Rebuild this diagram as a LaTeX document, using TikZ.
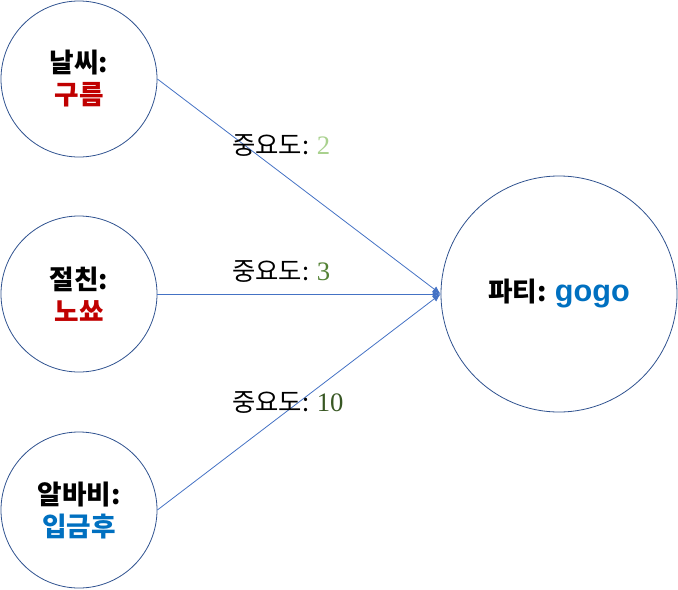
\documentclass[tikz,border=0pt]{standalone}
\usepackage{fontspec}
\setmainfont{Liberation Serif}
\newfontfamily\kr{Noto Sans CJK KR}
\newfontfamily\gogofont{Liberation Sans}
\usetikzlibrary{arrows.meta}
\definecolor{edgeblue}{HTML}{4472C4}
\definecolor{ringblue}{HTML}{2F528F}
\definecolor{kred}{HTML}{C00000}
\definecolor{kblue}{HTML}{0070C0}
\definecolor{gA}{HTML}{A9D18E}
\definecolor{gB}{HTML}{548235}
\definecolor{gC}{HTML}{385723}
\begin{document}
\begin{tikzpicture}[x=0.75pt,y=-0.75pt,
  ring/.style={circle, draw=ringblue, line width=0.6pt, inner sep=0pt, align=center,
    font=\kr\bfseries\fontsize{20}{24}\selectfont},
  smallring/.style={ring, minimum size=117pt},
  bigring/.style={ring, minimum size=177pt},
  edge/.style={draw=edgeblue, line width=0.6pt, -{Latex[length=6pt,width=5pt]}},
  weight/.style={anchor=west, inner sep=0pt, font=\kr\fontsize{19}{20}\selectfont}]
\useasboundingbox (0,0) rectangle (678,589);
\node[smallring] (w) at (79,79) {날씨:\\\textcolor{kred}{구름}};
\node[smallring] (f) at (79,294) {절친:\\\textcolor{kred}{노쑈}};
\node[smallring] (j) at (79,510) {알바비:\\\textcolor{kblue}{입금후}};
\node[bigring] (p) at (559,294) {파티: \textcolor{kblue}{\gogofont\bfseries\fontsize{23}{24}\selectfont gogo}};
\draw[edge] (w.east) -- (p.west);
\draw[edge] (f.east) -- (p.west);
\draw[edge] (j.east) -- (p.west);
\node[weight] (l1) at (232,146) {중요도: \textcolor{gA}{\rmfamily\fontsize{20}{20}\selectfont 2}};
\node[weight] (l2) at (232,272) {중요도: \textcolor{gB}{\rmfamily\fontsize{20}{20}\selectfont 3}};
\node[weight] (l3) at (232,403) {중요도: \textcolor{gC}{\rmfamily\fontsize{20}{20}\selectfont 10}};
\end{tikzpicture}
\end{document}
